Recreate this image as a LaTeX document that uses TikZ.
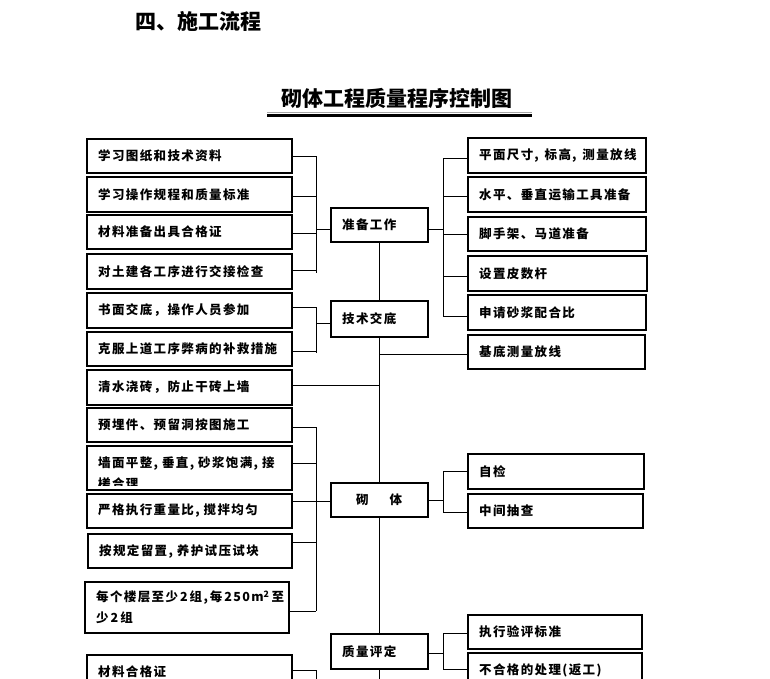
\documentclass[tikz,border=0pt]{standalone}
\usepackage{fontspec}
\setmainfont{Noto Sans CJK SC}
\newfontfamily\boxfont{Noto Sans CJK SC}[LetterSpace=11]
\newfontfamily\headfont{Noto Sans CJK SC}
\newcommand\mybox[6]{%
  \node[box, minimum width={#4-#2}, minimum height={#5-#3}] (#1) at ({(#2+#4)/2},{(#3+#5)/2}) {};
  \node[txt] (#1t) at ({#2+11},{(#3+#5)/2}) {#6};}
\newcommand\hc{,\hspace{4pt}}
\begin{document}
\begin{tikzpicture}[x=1pt,y=-1pt,
  box/.style={draw, line width=1.3pt, inner sep=0pt},
  txt/.style={inner sep=0pt, anchor=west, font=\boxfont\bfseries\fontsize{12.5}{21}\selectfont, align=left},
  conn/.style={line width=0.9pt},
  head/.style={inner sep=0pt, font=\headfont\bfseries\fontsize{21}{24}\selectfont}]
\useasboundingbox (0,0) rectangle (770,678);
\fill[white] (0,0) rectangle (770,678);

% headings
\node[head, anchor=west] (h1) at (135,21) {四、施工流程};
\node[head] (h2) at (396.5,98) {砌体工程质量程序控制图};
\draw[gray!70, line width=1pt] (267,112) -- (532,112);
\draw[line width=3pt] (267,115.5) -- (532,115.5);

% left boxes
\mybox{L1}{87}{139}{292}{173}{学习图纸和技术资料}
\mybox{L2}{87}{177}{292}{212}{学习操作规程和质量标准}
\mybox{L3}{87}{215}{292}{249}{材料准备出具合格证}
\mybox{L4}{87}{254}{292}{289}{对土建各工序进行交接检查}
\mybox{L5}{87}{293}{292}{328}{书面交底，操作人员参加}
\mybox{L6}{87}{332}{292}{366}{克服上道工序弊病的补救措施}
\mybox{L7}{87}{370}{292}{405}{清水浇砖，防止干砖上墙}
\mybox{L8}{87}{408}{292}{442}{预埋件、预留洞按图施工}
\node[box, minimum width=205, minimum height=44] (L9) at (189.5,468) {};
\begin{scope}
  \clip (87,446) rectangle (292,485);
  \node[txt] (L9t) at (98,473.5) {墙面平整\hc 垂直\hc 砂浆饱满\hc 接\\槎合理};
\end{scope}
\mybox{L10}{87}{494}{292}{528}{严格执行重量比\hc 搅拌均匀}
\mybox{L11}{88}{534}{292}{568}{按规定留置\hc 养护试压试块}
\mybox{L12}{85}{582}{289}{633}{每个楼层至少\hspace{2pt}2\hspace{2pt}组,\hspace{2pt}每\hspace{2pt}250m\textsuperscript{2}\hspace{2pt}至\\少\hspace{2pt}2\hspace{2pt}组}
\mybox{L13}{87}{655}{292}{700}{}
\node[txt] (L13t) at (98,672) {材料合格证};

% centre boxes
\mybox{C1}{331}{208}{428}{242}{准备工作}
\mybox{C2}{331}{301}{428}{337}{技术交底}
\node[box, minimum width=97, minimum height=34] (C3) at (379.5,500) {};
\node[txt] (C3t) at (356,500) {砌\hspace{21pt}体};
\mybox{C4}{331}{634}{428}{669}{质量评定}

% right boxes
\mybox{R1}{468}{138}{646}{173}{平面尺寸\hspace{1pt},\hspace{6pt}标高\hspace{1pt},\hspace{6pt}测量放线}
\mybox{R2}{468}{177}{646}{212}{水平、垂直运输工具准备}
\mybox{R3}{468}{217}{646}{251}{脚手架、马道准备}
\mybox{R4}{468}{256}{647}{291}{设置皮数杆}
\mybox{R5}{468}{295}{646}{330}{申请砂浆配合比}
\mybox{R6}{468}{335}{645}{369}{基底测量放线}
\mybox{R7}{468}{454}{644}{489}{自检}
\mybox{R8}{468}{494}{643}{528}{中间抽查}
\mybox{R9}{468}{615}{642}{649}{执行验评标准}
\node[box, minimum width=174, minimum height=40] (R10) at (555,673) {};
\node[txt] (R10t) at (479,670) {不合格的处理(返工)};

\coordinate (lb) at (316,0);
\coordinate (rb) at (443,0);

% spine
\draw[conn] (C1.south) -- (C2.north);
\draw[conn] (C2.south) -- (C3.north);
\draw[conn] (C3.south) -- (C4.north);
\draw[conn] (C4.south) -- (C4.south |- 0,690);

% group 1
\foreach \n/\y in {L1/156,L2/196,L3/233,L4/270}
  \draw[conn] (\n.east |- 0,\y) -- (lb |- 0,\y);
\draw[conn] (lb |- 0,156) -- (lb |- 0,273);
\draw[conn] (lb |- 0,229) -- (C1.west |- 0,229);
\draw[conn] (C1.east |- 0,229) -- (rb |- 0,229);
\draw[conn] (rb |- 0,158) -- (rb |- 0,316);
\foreach \n/\y in {R1/158,R2/196,R3/234,R4/276,R5/316}
  \draw[conn] (rb |- 0,\y) -- (\n.west |- 0,\y);

% group 2
\foreach \n/\y in {L5/307,L6/351}
  \draw[conn] (\n.east |- 0,\y) -- (lb |- 0,\y);
\draw[conn] (lb |- 0,307) -- (lb |- 0,353);
\draw[conn] (lb |- 0,323) -- (C2.west |- 0,323);
\draw[conn] (L7.east |- 0,385) -- (C2.south |- 0,385);
\draw[conn] (C2.south |- 0,354) -- (R6.west |- 0,354);

% group 3
\foreach \n/\y in {L8/427,L9/463,L11/542,L12/611}
  \draw[conn] (\n.east |- 0,\y) -- (lb |- 0,\y);
\draw[conn] (lb |- 0,427) -- (lb |- 0,611);
\draw[conn] (L10.east |- 0,501) -- (C3.west |- 0,501);
\draw[conn] (C3.east |- 0,500) -- (rb |- 0,500);
\draw[conn] (rb |- 0,471) -- (rb |- 0,512);
\foreach \n/\y in {R7/471,R8/512}
  \draw[conn] (rb |- 0,\y) -- (\n.west |- 0,\y);

% group 4
\draw[conn] (L13.east |- 0,670) -- (lb |- 0,670);
\draw[conn] (lb |- 0,670) -- (lb |- 0,690);
\draw[conn] (C4.east |- 0,653) -- (rb |- 0,653);
\draw[conn] (rb |- 0,633) -- (rb |- 0,669);
\foreach \n/\y in {R9/633,R10/669}
  \draw[conn] (rb |- 0,\y) -- (\n.west |- 0,\y);
\end{tikzpicture}
\end{document}
